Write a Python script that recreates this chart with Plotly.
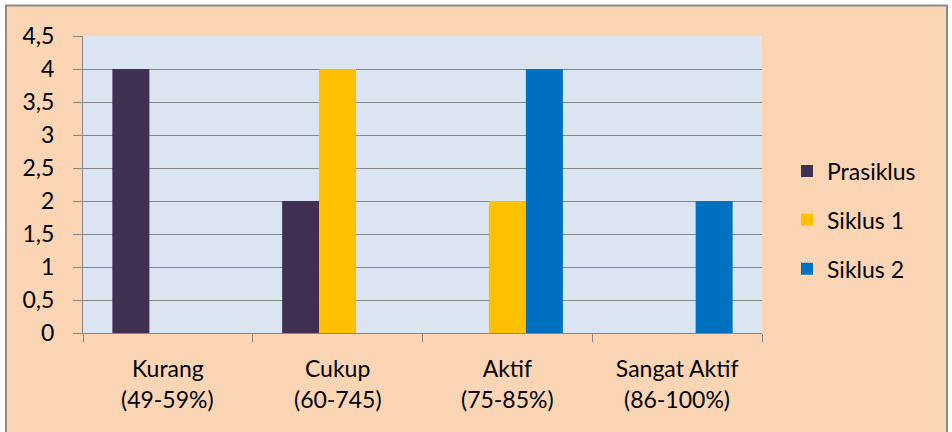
import plotly.graph_objects as go

categories = ["Kurang", "Cukup", "Aktif", "Sangat Aktif"]
ranges = ["(49-59%)", "(60-745)", "(75-85%)", "(86-100%)"]
prasiklus = [4, 2, 0, 0]
siklus1 = [0, 4, 2, 0]
siklus2 = [0, 0, 4, 2]
series_names = ["Prasiklus", "Siklus 1", "Siklus 2"]
series_colors = ["#403152", "#FFC000", "#0070C0"]
y_ticks = [0, 0.5, 1, 1.5, 2, 2.5, 3, 3.5, 4, 4.5]

FONT = "Lato, Carlito, Calibri, sans-serif"
FS = 23
GRAY = "#878787"

fig = go.Figure()
for name, vals, col in zip(series_names, [prasiklus, siklus1, siklus2], series_colors):
    fig.add_trace(go.Bar(x=categories, y=vals, name=name, marker_color=col,
                         marker_line_width=0, legendgroup=name, hoverinfo="skip"))

# Chart frame (peach) and plot area background
fig.add_shape(type="rect", xref="paper", yref="paper",
              x0=-0.1134, x1=1.2725, y0=-0.6, y1=1.1027,
              fillcolor="#FCD5B5", line=dict(color="#8C8C8C", width=2), layer="below")
fig.add_shape(type="rect", xref="paper", yref="paper",
              x0=0, x1=1, y0=0, y1=1,
              fillcolor="#DBE5F1", line=dict(width=0), layer="below")

for c, r in zip(categories, ranges):
    fig.add_annotation(x=c, y=-0.222, xref="x", yref="paper", text=r,
                       showarrow=False, yanchor="middle",
                       font=dict(family=FONT, size=FS, color="#000000"))

fig.update_layout(
    width=952, height=432,
    margin=dict(l=83, r=190, t=36, b=99),
    paper_bgcolor="white", plot_bgcolor="rgba(0,0,0,0)",
    barmode="group", bargap=0.346, bargroupgap=0,
    separators=",.",
    font=dict(family=FONT, size=FS, color="#000000"),
    legend=dict(x=1.0368, xanchor="left", y=0.3805, yanchor="middle",
                tracegroupgap=16, bgcolor="rgba(0,0,0,0)",
                font=dict(family=FONT, size=FS, color="#000000")),
    showlegend=True,
)
fig.update_xaxes(showline=True, linecolor=GRAY, linewidth=1,
                 ticks="outside", ticklen=8, tickcolor=GRAY, tickson="boundaries",
                 showgrid=False, ticklabelstandoff=15, fixedrange=True)
fig.update_yaxes(range=[0, 4.5], tickvals=y_ticks, showline=True, linecolor=GRAY,
                 linewidth=1, ticks="outside", ticklen=9, tickcolor=GRAY,
                 showgrid=True, gridcolor=GRAY, gridwidth=1, zeroline=False,
                 ticklabelstandoff=14, fixedrange=True)

fig.write_html("out.html", config={"displayModeBar": False},
               post_script="document.body.style.margin='0';document.body.style.overflow='hidden';")
